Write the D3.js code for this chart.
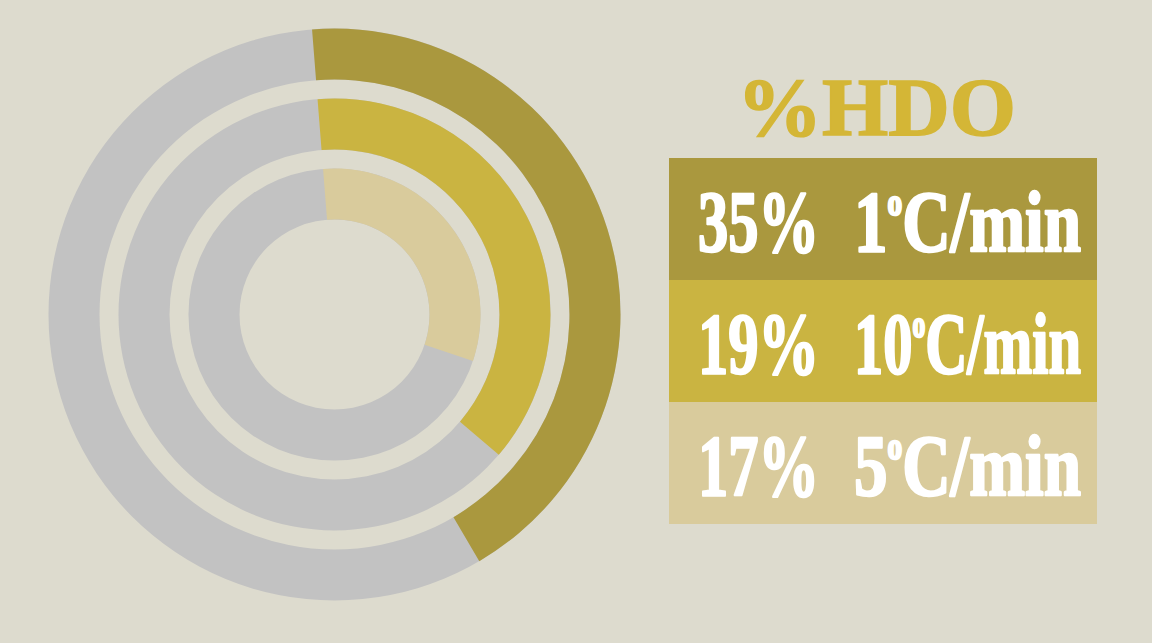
<!DOCTYPE html>
<html>
<head>
<meta charset="utf-8">
<script src="https://cdn.jsdelivr.net/npm/d3@7"></script>
<style>
  html, body { margin: 0; padding: 0; background: #DDDBCE; }
  svg { display: block; }
</style>
</head>
<body>
<svg id="chart" width="1152" height="643"></svg>
<script>
// Rows, outermost ring first
const yieldLabels = ["35%", "19%", "17%"];
const heatingRates = ["1", "10", "5"];
// Part of each ring's full turn covered by its coloured arc (percent)
const ringShare = [42.8, 37.5, 31.4];
const ringColors = ["#AA983E", "#CAB441", "#D9CB9C"];
const titleText = "%HDO";

const svg = d3.select("#chart");
const W = 1152, H = 643;
svg.append("rect").attr("width", W).attr("height", H).attr("fill", "#DDDBCE");

// ---- concentric rings ----
const cx = 334.5, cy = 314.5;
const startAngle = -4.5 * Math.PI / 180;
const turn = d3.scaleLinear().domain([0, 100]).range([startAngle, startAngle + 2 * Math.PI]);
const ringIdx = d3.range(ringShare.length);
const radius = d3.scaleBand().domain(ringIdx).range([286, 95]).paddingInner(0.271);

const g = svg.append("g").attr("transform", `translate(${cx},${cy})`);
const arc = d3.arc();

// grey track for each ring
g.selectAll("path.track")
  .data(ringIdx)
  .join("path")
  .attr("class", "track")
  .attr("fill", "#C2C2C2")
  .attr("d", i => arc({
    innerRadius: radius(i),
    outerRadius: radius(i) + radius.bandwidth(),
    startAngle: 0,
    endAngle: 2 * Math.PI
  }));

// coloured arc for each ring
g.selectAll("path.value")
  .data(ringIdx)
  .join("path")
  .attr("class", "value")
  .attr("fill", i => ringColors[i])
  .attr("d", i => arc({
    innerRadius: radius(i),
    outerRadius: radius(i) + radius.bandwidth(),
    startAngle: turn(0),
    endAngle: turn(ringShare[i])
  }));

// squeeze a text horizontally so it spans [x0, x1]
function fitBetween(sel, x0, x1, y) {
  sel.each(function (d) {
    const t = d3.select(this);
    const len = this.getComputedTextLength();
    const yy = typeof y === "function" ? y(d) : y;
    t.attr("transform", `translate(${x0},${yy}) scale(${(x1 - x0) / len},1)`);
  });
}

// ---- title ----
svg.append("text")
  .attr("font-family", "'Liberation Serif', serif")
  .attr("font-weight", "bold")
  .attr("font-size", 82)
  .attr("fill", "#D4B636")
  .attr("stroke", "#D4B636")
  .attr("stroke-width", 1.5)
  .text(titleText)
  .call(fitBetween, 737, 1016, 135);

// ---- legend table ----
const rowY = d3.scaleBand().domain(ringIdx).range([158, 524]);
const boxX = 669, boxW = 428;
const baseline = i => rowY(i) + rowY.bandwidth() / 2 + 32;

const rows = svg.selectAll("g.row")
  .data(ringIdx)
  .join("g")
  .attr("class", "row");

rows.append("rect")
  .attr("x", boxX)
  .attr("y", i => rowY(i))
  .attr("width", boxW)
  .attr("height", rowY.bandwidth())
  .attr("fill", i => ringColors[i]);

const fontStyle = sel => sel
  .attr("font-family", "'Liberation Serif', serif")
  .attr("font-weight", "bold")
  .attr("font-size", 87)
  .attr("fill", "#FFFFFF")
  .attr("stroke", "#FFFFFF")
  .attr("stroke-width", 2.5)
  .attr("stroke-linejoin", "round");

rows.append("text")
  .call(fontStyle)
  .text(i => yieldLabels[i])
  .call(fitBetween, 698, 819, baseline);

const rate = rows.append("text").call(fontStyle);
rate.append("tspan").text(i => heatingRates[i]);
rate.append("tspan").attr("font-size", 38).attr("dy", -36).text("o");
rate.append("tspan").attr("dy", 36).text("C/min");
rate.call(fitBetween, 854, 1081, baseline);
</script>
</body>
</html>
